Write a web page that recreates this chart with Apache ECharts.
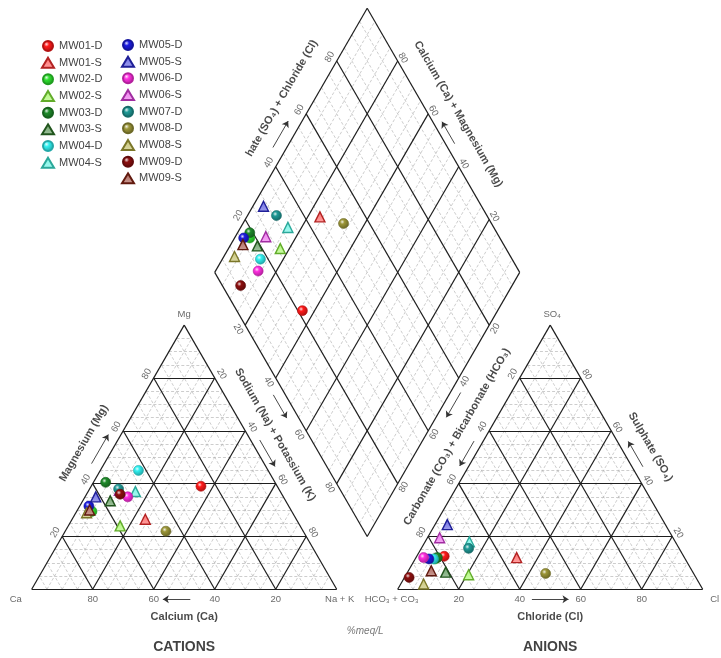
<!DOCTYPE html>
<html><head><meta charset="utf-8">
<script src="https://cdn.jsdelivr.net/npm/echarts@6/dist/echarts.min.js"></script>
<style>html,body{margin:0;padding:0;background:#fff}#c{width:721px;height:658px}</style>
</head><body><div id="c"></div>
<script>
// ---- data (% meq/L) ----
const samples = ['MW01-D','MW01-S','MW02-D','MW02-S','MW03-D','MW03-S','MW04-D','MW04-S','MW05-D','MW05-S','MW06-D','MW06-S','MW07-D','MW08-D','MW08-S','MW09-D','MW09-S'];
const ca   = [25, 49.5, 65.5, 59, 55.5, 57.5, 42.5, 47.5, 65.5, 61.5, 51, 52.5, 52.5, 45, 67.5, 53, 66];
const mg   = [39, 26.5, 29.5, 24, 40.5, 33.5, 45, 37, 31.5, 35, 35, 37.5, 38, 22, 29, 36, 30];
const naK  = [36, 24, 5, 17, 4, 9, 12.5, 15.5, 3, 3.5, 14, 10, 9.5, 33, 3.5, 11, 4];
const hco3 = [78.5, 55, 82, 74, 81, 81, 82.5, 67.5, 84, 71.5, 85.5, 76.5, 69, 48.5, 90.5, 94, 85.5];
const so4  = [12.5, 12, 11.5, 5.5, 12, 6.5, 11.5, 18, 11.5, 24.5, 12, 19.5, 15.5, 6, 2, 4.5, 7];
const cl   = [9, 33, 6.5, 20.5, 7, 12.5, 6, 14.5, 4.5, 4, 2.5, 4, 15.5, 45.5, 7.5, 1.5, 7.5];
const colors = ['#ff1a1a','#ff3030','#2ee02e','#8cf53c','#1e8a2a','#2f7a2a','#30f0f0','#3ef0dc','#1c1ce0','#2c2cd8','#ff2ee0','#e640e6','#1f9a96','#9c9638','#b0aa3a','#8c0f0f','#8a2414'];
const shapes = ['circle','triangle','circle','triangle','circle','triangle','circle','triangle','circle','triangle','circle','triangle','circle','circle','triangle','circle','triangle'];
const ticks = [20, 40, 60, 80];

// ---- geometry helpers (units: triangle side = 100) ----
const K = 3.05, H = Math.sqrt(3) / 2, GAP = 20;
const cat = (r, t) => [r + t / 2, t * H];                 // r = Na+K, t = Mg
const ani = (r, t) => [100 + GAP + r + t / 2, t * H];     // r = Cl, t = SO4
const dia = (a, b) => [50 + GAP / 2 + (a + b) / 2, (100 + GAP) * H + (b - a) * H]; // a = Na+K, b = SO4+Cl
const mv = (p, dx, dy) => [p[0] + dx / K, p[1] - dy / K];
const NL = [-0.866, -0.5], NR = [0.866, -0.5], NDL = [-0.866, 0.5], NDR = [0.866, 0.5];
const nmv = (p, n, d) => mv(p, n[0] * d, n[1] * d);

// ---- grid lines ----
const black = [], gray = [];
function seg(arr, p, q) { arr.push({ coords: [p, q] }); }
function triLines(f) {
  seg(black, f(0, 0), f(100, 0)); seg(black, f(100, 0), f(0, 100)); seg(black, f(0, 100), f(0, 0));
  for (let k = 5; k < 100; k += 5) {
    const arr = (k % 20 === 0) ? black : gray;
    seg(arr, f(0, k), f(100 - k, k));
    seg(arr, f(k, 0), f(k, 100 - k));
    seg(arr, f(100 - k, 0), f(0, 100 - k));
  }
}
triLines(cat); triLines(ani);
seg(black, dia(0, 0), dia(100, 0)); seg(black, dia(100, 0), dia(100, 100));
seg(black, dia(100, 100), dia(0, 100)); seg(black, dia(0, 100), dia(0, 0));
for (let k = 5; k < 100; k += 5) {
  const arr = (k % 20 === 0) ? black : gray;
  seg(arr, dia(k, 0), dia(k, 100));
  seg(arr, dia(0, k), dia(100, k));
}

// ---- arrows ----
const arrows = [];
function arr(p, q) { arrows.push({ coords: [p, q] }); }
arr(mv(cat(52, 0), 0, 10), mv(cat(43, 0), 0, 10));
arr(mv(ani(44, 0), 0, 10), mv(ani(56, 0), 0, 10));
arr(nmv(cat(0, 45.5), NL, 11), nmv(cat(0, 56.5), NL, 11));
arr(nmv(cat(45, 55), NR, 8), nmv(cat(55, 45), NR, 8));
arr(nmv(ani(55.4, 44.6), NR, 9.5), nmv(ani(45.8, 54.2), NR, 9.5));
arr(nmv(ani(0, 54.6), NL, 8), nmv(ani(0, 45.2), NL, 8));
arr(nmv(dia(44.4, 0), NDL, 10.5), nmv(dia(53.2, 0), NDL, 10.5));
arr(nmv(dia(100, 56.2), NDR, 9), nmv(dia(100, 46.8), NDR, 9));
arr(nmv(dia(52.8, 100), NR, 8), nmv(dia(44.5, 100), NR, 8));
arr(nmv(dia(0, 45), NL, 12), nmv(dia(0, 55), NL, 12));

// ---- texts ----
const texts = [];
const FF = '"Liberation Sans", Arial, sans-serif';
function txt(p, s, rot, o) {
  texts.push({ value: p, label: Object.assign({ show: true, formatter: s, rotate: rot || 0, fontSize: 9.5, color: '#444', fontFamily: FF }, o || {}) });
}
const TB = { fontSize: 11, fontWeight: 'bold', color: '#1a1a1a' };
ticks.forEach(k => {
  txt(mv(cat(100 - k, 0), 0, 10), String(k), 0);
  txt(nmv(cat(0, k), NL, 8), String(k), 60);
  txt(nmv(cat(k, 100 - k), NR, 8), String(k), -60);
  txt(mv(ani(k, 0), 0, 10), String(k), 0);
  txt(nmv(ani(0, 100 - k), NL, 8), String(k), 60);
  txt(nmv(ani(100 - k, k), NR, 7), String(k), -60);
  txt(nmv(dia(0, k), NL, 8), String(k), 60);
  txt(nmv(dia(100 - k, 100), NR, 6), String(k), -60);
  txt(nmv(dia(k, 0), NDL, 8), String(k), -60);
  txt(nmv(dia(100, 100 - k), NDR, 7), String(k), 60);
});
txt(mv(cat(0, 100), 0, -11), 'Mg', 0);
txt(mv(cat(0, 0), -16, 10), 'Ca', 0);
txt(mv(cat(100, 0), 3, 10), 'Na + K', 0);
txt(mv(ani(0, 100), 2, -11), 'SO₄', 0);
txt(mv(ani(0, 0), -6, 10), 'HCO₃ + CO₃', 0);
txt(mv(ani(100, 0), 12, 10), 'Cl', 0);
txt(nmv(cat(0, 50), NL, 28), 'Magnesium (Mg)', 60, TB);
txt(nmv(cat(46, 54), NR, 24), 'Sodium (Na) + Potassium (K)', -60, TB);
txt(mv(cat(50, 0), 0, 28), 'Calcium (Ca)', 0, TB);
txt(mv(cat(50, 0), 0, 58), 'CATIONS', 0, { fontSize: 14, fontWeight: 'bold', color: '#111' });
txt(nmv(ani(0, 53), NL, 25), 'Carbonate (CO₃) + Bicarbonate (HCO₃)', 60, TB);
txt(nmv(ani(51, 49), NR, 26), 'Sulphate (SO₄)', -60, TB);
txt(mv(ani(50, 0), 0, 28), 'Chloride (Cl)', 0, TB);
txt(mv(ani(50, 0), 0, 58), 'ANIONS', 0, { fontSize: 14, fontWeight: 'bold', color: '#111' });
txt(nmv(dia(0, 60.4), NL, 29), 'hate (SO₄) + Chloride (Cl)', 60, TB);
txt(nmv(dia(45, 100), NR, 26), 'Calcium (Ca) + Magnesium (Mg)', -60, TB);
txt(mv(dia(100, 0), -2, 95), '%meq/L', 0, { fontSize: 10, fontStyle: 'italic', color: '#555' });

// ---- sample series ----
function shade(hex, f) {
  const n = parseInt(hex.slice(1), 16);
  let r = (n >> 16) & 255, g = (n >> 8) & 255, b = n & 255;
  if (f < 0) { r = Math.round(r * (1 + f)); g = Math.round(g * (1 + f)); b = Math.round(b * (1 + f)); }
  else { r = Math.round(r + (255 - r) * f); g = Math.round(g + (255 - g) * f); b = Math.round(b + (255 - b) * f); }
  return 'rgb(' + r + ',' + g + ',' + b + ')';
}
const sampleSeries = samples.map((name, i) => {
  const isC = shapes[i] === 'circle';
  const color = isC
    ? { type: 'radial', x: 0.38, y: 0.35, r: 0.7, colorStops: [{ offset: 0, color: shade(colors[i], 0.85) }, { offset: 0.3, color: colors[i] }, { offset: 1, color: shade(colors[i], -0.35) }] }
    : { type: 'linear', x: 0, y: 0, x2: 0, y2: 1, colorStops: [{ offset: 0, color: shade(colors[i], 0.3) }, { offset: 1, color: shade(colors[i], 0.55) }] };
  return {
    name, type: 'scatter', symbol: shapes[i], symbolSize: 10, z: 10, clip: false,
    itemStyle: { color, borderColor: shade(colors[i], -0.3), borderWidth: isC ? 0.6 : 1.4, opacity: 1 },
    data: [cat(naK[i], mg[i]), ani(cl[i], so4[i]), dia(naK[i], so4[i] + cl[i])]
  };
});

const legendCommon = {
  orient: 'vertical', itemWidth: 12, itemHeight: 10, itemGap: 4.67, itemTextGap: 8, padding: 0,
  textStyle: { fontSize: 11, color: '#444', fontFamily: FF, lineHeight: 12 },
  selectedMode: false
};
const chart = echarts.init(document.getElementById('c'), null, { renderer: 'canvas' });
chart.setOption({
  animation: false,
  backgroundColor: '#fff',
  grid: { left: 31.7, right: 18.3, top: 3.7, bottom: 68.7 },
  xAxis: { type: 'value', min: 0, max: 220, show: false },
  yAxis: { type: 'value', min: 0, max: 192, show: false },
  legend: [
    Object.assign({ left: 41, top: 40, data: samples.slice(0, 8) }, legendCommon),
    Object.assign({ left: 121, top: 39, data: samples.slice(8) }, legendCommon)
  ],
  series: [
    { type: 'lines', coordinateSystem: 'cartesian2d', silent: true, z: 1, clip: false,
      lineStyle: { color: '#b8b8b8', width: 0.7, type: [3, 2], opacity: 1 }, data: gray },
    { type: 'lines', coordinateSystem: 'cartesian2d', silent: true, z: 2, clip: false,
      lineStyle: { color: '#1e1e1e', width: 1.2, opacity: 1 }, data: black },
    { type: 'lines', coordinateSystem: 'cartesian2d', silent: true, z: 3, clip: false,
      symbol: ['none', 'arrow'], symbolSize: [0, 6],
      lineStyle: { color: '#333', width: 0.9, opacity: 1 }, data: arrows },
    { type: 'scatter', name: '_labels', silent: true, z: 20, clip: false, symbolSize: 1,
      itemStyle: { color: 'rgba(0,0,0,0)' }, label: { show: true, position: 'inside' }, data: texts }
  ].concat(sampleSeries)
});
</script>
</body></html>
